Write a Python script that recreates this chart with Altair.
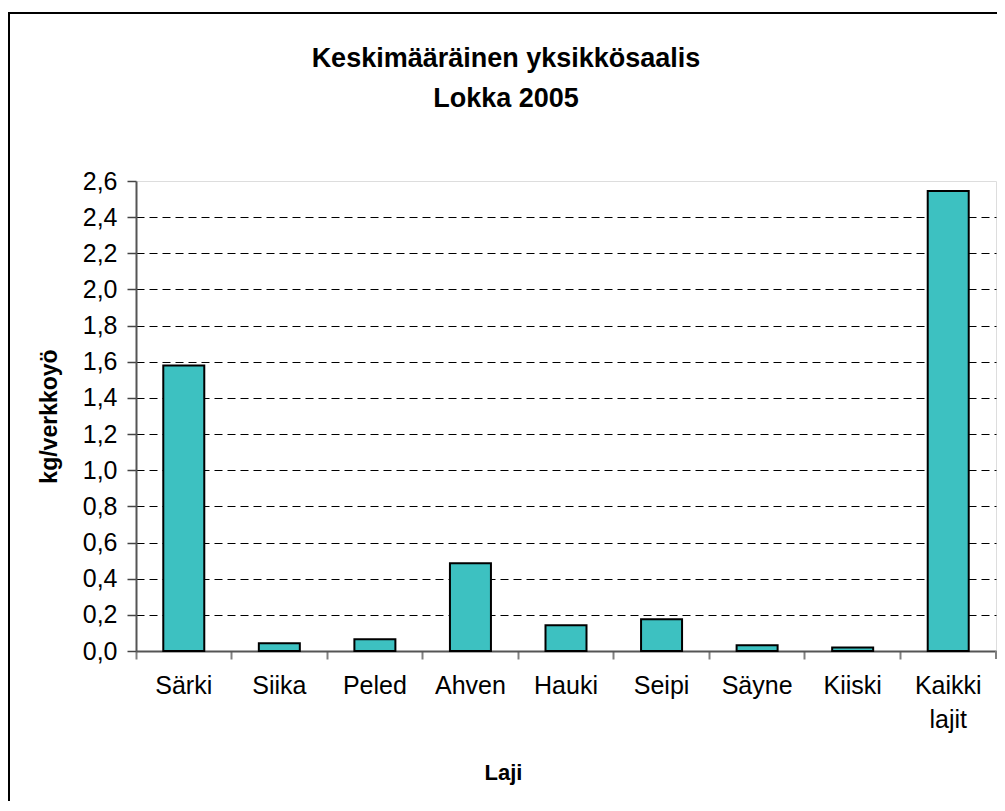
import altair as alt
import pandas as pd

categories = ["Särki", "Siika", "Peled", "Ahven", "Hauki", "Seipi", "Säyne", "Kiiski", "Kaikki lajit"]
values = [1.58, 0.043, 0.065, 0.486, 0.142, 0.176, 0.032, 0.02, 2.545]
y_ticks = [0.0, 0.2, 0.4, 0.6, 0.8, 1.0, 1.2, 1.4, 1.6, 1.8, 2.0, 2.2, 2.4, 2.6]
title_lines = ["Keskimääräinen yksikkösaalis", "Lokka 2005"]

df = pd.DataFrame({"Laji": categories, "kg": values})

W, H = 860, 470
PAD_L, PAD_T, PAD_R, PAD_B = 128, 173, 1, 150
FONT = "Liberation Sans"

x_scale = alt.Scale(paddingInner=0, paddingOuter=0)

bars = alt.Chart(df).mark_bar(
    size=41, color="#3DC1C1", stroke="black", strokeWidth=2
).encode(
    x=alt.X("Laji:N", sort=categories, scale=x_scale,
            axis=alt.Axis(
                title="Laji", titleFont=FONT, titleFontSize=22, titleFontWeight="bold",
                titleColor="black", titleX=367, titleY=121, titleBaseline="middle",
                titleAnchor="middle",
                labelAngle=0, labelFont=FONT, labelFontSize=25, labelColor="black",
                labelExpr="split(datum.label, ' ')", labelLineHeight=34,
                bandPosition=0, labelPadding=14,
                tickSize=8, tickColor="#808080", tickWidth=2,
                domainColor="#555555", domainWidth=2, grid=False,
            )),
    y=alt.Y("kg:Q",
            scale=alt.Scale(domain=[0, 2.6], nice=False),
            axis=alt.Axis(
                title="kg/verkkoyö", titleFont=FONT, titleFontSize=23, titleFontWeight="bold",
                titleColor="black", titleAngle=270, titleX=-87, titleY=H / 2,
                titleBaseline="middle", titleAnchor="middle",
                values=y_ticks,
                labelExpr="replace(format(datum.value, '.1f'), '.', ',')",
                labelFont=FONT, labelFontSize=25, labelColor="black", labelPadding=10,
                tickSize=9, tickColor="#444444", tickWidth=1.5,
                domainColor="#555555", domainWidth=2,
                grid=True, gridColor="black", gridDash=[8, 5], gridWidth=1.2,
                gridOpacity={"condition": {"test": "datum.value == 0 || datum.value >= 2.59", "value": 0}, "value": 1},
            )),
)

# closing tick at the right end of the category axis
end_tick = alt.Chart(df.tail(1)).mark_rule(color="#808080", strokeWidth=2, clip=False).encode(
    x=alt.X("Laji:N", sort=categories, scale=x_scale, bandPosition=1),
    y=alt.value(H), y2=alt.value(H + 8),
)

frame = alt.Chart(pd.DataFrame({"k": [0]})).mark_rect(
    fill=None, stroke="black", strokeWidth=2, clip=False
).encode(
    x=alt.value(-PAD_L + 1), x2=alt.value(W + PAD_R + 20),
    y=alt.value(-PAD_T + 5), y2=alt.value(H + PAD_B + 20),
)

title = alt.Chart(pd.DataFrame({"k": [0]})).mark_text(
    font=FONT, fontSize=27, fontWeight="bold", color="black",
    align="center", baseline="middle", lineBreak="\n", lineHeight=40,
).encode(
    x=alt.value(370), y=alt.value(-122),
    text=alt.value("\n".join(title_lines)),
)

chart = alt.layer(frame, bars, end_tick, title).properties(
    width=W, height=H,
    padding={"left": PAD_L, "top": PAD_T, "right": PAD_R, "bottom": PAD_B},
    autosize=alt.AutoSizeParams(type="none"),
).configure_view(
    stroke="#888888", strokeWidth=2
).configure(background="white")

chart.save("out.html", embed_options={"renderer": "svg", "actions": False})
